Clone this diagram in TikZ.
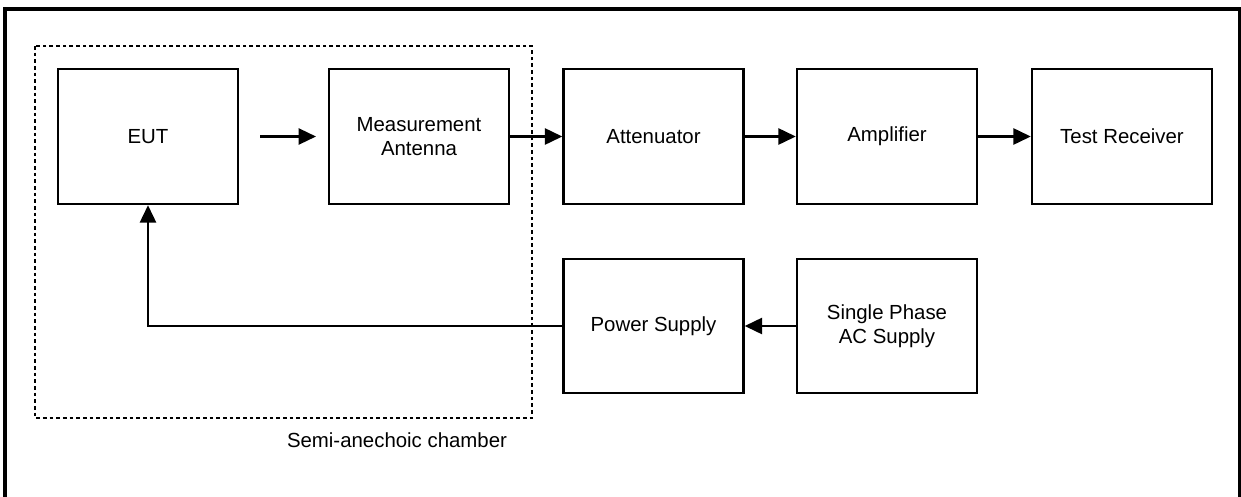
\documentclass[tikz,border=0pt]{standalone}
\usepackage{fontspec}
\setmainfont{Liberation Sans}
\usetikzlibrary{arrows.meta}
\begin{document}
\begin{tikzpicture}[x=0.75pt,y=-0.75pt,
  blockbox/.style={draw,line width=1.8pt,minimum width=135pt,minimum height=101.25pt,inner sep=0pt,align=center,font=\fontsize{15.3pt}{18pt}\selectfont},
  lowbox/.style={blockbox,minimum height=100.5pt},
  conn/.style={line width=1.8pt,-{Triangle[length=13pt,width=12pt]}},
  chamber/.style={line width=1.8pt,dash pattern=on 2.8pt off 2.2pt}]
\useasboundingbox (0,0) rectangle (1241,496);
\fill[white] (0,0) rectangle (1241,496);
% outer frame
\draw[line width=3pt] (5,520) -- (5,9) -- (1240,9) -- (1240,520);
% chamber
\draw[chamber] (35,46) rectangle (532,418);
\node[font=\fontsize{15.3pt}{18pt}\selectfont] (lbl) at (397,440) {Semi-anechoic chamber};
% blocks
\node[blockbox] (eut) at (148,136.5) {EUT};
\node[blockbox] (ant) at (419,136.5) {Measurement\\Antenna};
\node[blockbox] (att) at (653.5,136.5) {Attenuator};
\node[blockbox] (amp) at (887,136.5) {Amplifier};
\node[blockbox] (rx) at (1122,136.5) {Test Receiver};
\node[lowbox] (ps) at (653.5,326) {Power Supply};
\node[lowbox] (ac) at (887,326) {Single Phase\\AC Supply};
% connectors
\coordinate (fa) at (260,136.5);
\coordinate (fb) at (316,136.5);
\draw[conn] (fa) -- (fb);
\draw[conn] (ant) -- (att);
\draw[conn] (att) -- (amp);
\draw[conn] (amp) -- (rx);
\draw[conn] (ac) -- (ps);
\draw[conn] (ps.west) -| (eut.south);
\end{tikzpicture}
\end{document}
